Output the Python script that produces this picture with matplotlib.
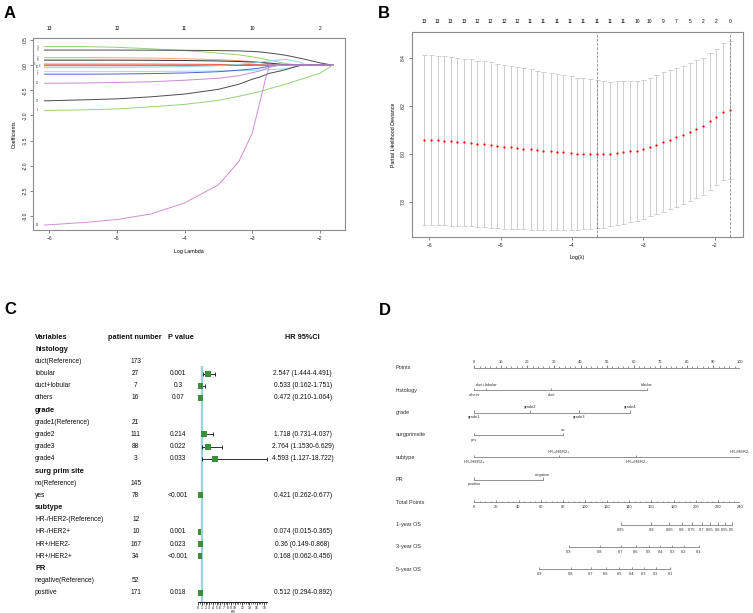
import numpy as np
import matplotlib
matplotlib.use("Agg")
import matplotlib.pyplot as plt
from matplotlib.transforms import blended_transform_factory

plt.rcParams['font.family'] = ['Liberation Sans', 'DejaVu Sans']

# ---------------- A: lasso coefficient paths ----------------
path_loglambda = [-6.07, -5.5, -5.0, -4.5, -4.0, -3.5, -3.2, -3.0, -2.9, -2.8,
                  -2.74, -2.6, -2.5, -2.3, -2.2, -2.0, -1.81]
coef_paths = [
    [0.37, 0.37, 0.355, 0.325, 0.29, 0.24, 0.205, 0.165, 0.14, 0.115, 0.10, 0.06, 0.03, 0, 0, 0, 0],
    [0.30, 0.30, 0.30, 0.298, 0.295, 0.29, 0.283, 0.272, 0.265, 0.25, 0.24, 0.215, 0.195, 0.14, 0.11, 0.045, 0],
    [0.15, 0.15, 0.147, 0.14, 0.128, 0.11, 0.09, 0.07, 0.058, 0.035, 0.02, 0, 0, 0, 0, 0, 0],
    [0.10, 0.10, 0.10, 0.097, 0.092, 0.083, 0.073, 0.062, 0.055, 0.045, 0.04, 0.022, 0.01, 0, 0, 0, 0],
    [0.02, 0.02, 0.02, 0.02, 0.018, 0.015, 0.012, 0.01, 0.008, 0.005, 0.003, 0, 0, 0, 0, 0, 0],
    [-0.01, -0.01, -0.01, -0.01, -0.01, -0.008, -0.006, -0.005, -0.004, -0.002, 0, 0, 0, 0, 0, 0, 0],
    [-0.045, -0.045, -0.043, -0.038, -0.028, -0.01, 0.015, 0.04, 0.055, 0.075, 0.085, 0.105, 0.112, 0.06, 0, 0, 0],
    [-0.13, -0.13, -0.128, -0.125, -0.12, -0.115, -0.11, -0.105, -0.10, -0.095, -0.09, -0.08, -0.07, -0.005, 0, 0, 0],
    [-0.18, -0.18, -0.176, -0.168, -0.155, -0.13, -0.10, -0.075, -0.06, -0.035, -0.02, 0, 0, 0, 0, 0, 0],
    [-0.36, -0.355, -0.345, -0.33, -0.30, -0.26, -0.21, -0.15, -0.12, -0.07, -0.04, 0, 0, 0, 0, 0, 0],
    [-0.71, -0.69, -0.67, -0.63, -0.575, -0.48, -0.38, -0.28, -0.24, -0.19, -0.16, -0.12, -0.085, -0.01, 0, 0, 0],
    [-0.90, -0.89, -0.87, -0.83, -0.78, -0.70, -0.62, -0.56, -0.53, -0.49, -0.465, -0.415, -0.375, -0.29, -0.245, -0.16, 0],
    [-3.18, -3.13, -3.07, -2.96, -2.74, -2.38, -1.92, -1.35, -0.80, -0.25, 0, 0, 0, 0, 0, 0, 0],
]
path_colors = ['#8fd474', '#4d4d4d', '#f3a27c', '#2f2f2f', '#e8553a', '#5d7ad8', '#8ad8e6',
               '#9fd8ea', '#4f63c8', '#c98ad6', '#4d4d4d', '#93d474', '#d58cd9']
path_ids = ['4', '9', '3', '8', '5', '6', '10', '7', '2', '11', '12', '1', '13']
df_ticks = [-6, -5, -4, -3, -2]
df_labels = ['13', '12', '11', '10', '2']

# ---------------- B: cross-validation ----------------
cv_loglambda = [-6.07, -5.98, -5.88, -5.79, -5.70, -5.61, -5.51, -5.42, -5.33, -5.23,
                -5.14, -5.05, -4.95, -4.86, -4.77, -4.68, -4.58, -4.49, -4.40, -4.30,
                -4.21, -4.12, -4.02, -3.93, -3.84, -3.75, -3.65, -3.56, -3.47, -3.37,
                -3.28, -3.19, -3.09, -3.00, -2.91, -2.82, -2.72, -2.63, -2.54, -2.44,
                -2.35, -2.26, -2.16, -2.07, -1.98, -1.89, -1.79]
cv_mean = [8.058, 8.058, 8.057, 8.055, 8.052, 8.051, 8.048, 8.046, 8.041, 8.039,
           8.036, 8.033, 8.030, 8.028, 8.023, 8.021, 8.018, 8.015, 8.012, 8.010,
           8.007, 8.006, 8.004, 8.001, 8.000, 7.999, 7.998, 7.998, 7.999, 8.003,
           8.006, 8.010, 8.012, 8.018, 8.028, 8.037, 8.048, 8.058, 8.069, 8.079,
           8.090, 8.103, 8.114, 8.135, 8.154, 8.175, 8.182]
cv_se = [0.352, 0.352, 0.351, 0.351, 0.350, 0.349, 0.348, 0.347, 0.346, 0.345,
         0.344, 0.342, 0.341, 0.339, 0.337, 0.335, 0.333, 0.331, 0.329, 0.326,
         0.324, 0.321, 0.319, 0.316, 0.314, 0.311, 0.308, 0.305, 0.301, 0.299,
         0.296, 0.293, 0.291, 0.290, 0.288, 0.289, 0.290, 0.289, 0.288, 0.287,
         0.286, 0.286, 0.286, 0.285, 0.283, 0.284, 0.285]
cv_nzero = ['13', '13', '13', '13', '12', '12', '12', '12', '11', '11', '11', '11',
            '11', '11', '11', '11', '10', '10', '9', '7', '5', '2', '2', '0']
idx_min = 26

# ---------------- C: forest plot ----------------
var_names = ['histology', 'duct(Reference)', 'lobular', 'duct+lobular', 'others',
             'grade', 'grade1(Reference)', 'grade2', 'grade3', 'grade4',
             'surg prim site', 'no(Reference)', 'yes',
             'subtype', 'HR-/HER2-(Reference)', 'HR-/HER2+', 'HR+/HER2-', 'HR+/HER2+',
             'PR', 'negative(Reference)', 'positive']
group_names = ['histology', 'grade', 'surg prim site', 'subtype', 'PR']
patients = ['', '173', '27', '7', '16', '', '21', '111', '88', '3', '', '145', '78',
            '', '12', '10', '167', '34', '', '52', '171']
p_values = ['', '', '0.001', '0.3', '0.07', '', '', '0.214', '0.022', '0.033', '', '',
            '<0.001', '', '', '0.001', '0.023', '<0.001', '', '', '0.018']
hr = [np.nan, np.nan, 2.547, 0.533, 0.472, np.nan, np.nan, 1.718, 2.764, 4.593, np.nan,
      np.nan, 0.421, np.nan, np.nan, 0.074, 0.36, 0.168, np.nan, np.nan, 0.512]
hr_lo = [np.nan, np.nan, 1.444, 0.162, 0.210, np.nan, np.nan, 0.731, 1.153, 1.127, np.nan,
         np.nan, 0.262, np.nan, np.nan, 0.015, 0.149, 0.062, np.nan, np.nan, 0.294]
hr_hi = [np.nan, np.nan, 4.491, 1.751, 1.064, np.nan, np.nan, 4.037, 6.629, 18.722, np.nan,
         np.nan, 0.677, np.nan, np.nan, 0.365, 0.868, 0.456, np.nan, np.nan, 0.892]
hr_text = ['', '', '2.547 (1.444-4.491)', '0.533 (0.162-1.751)', '0.472 (0.210-1.064)', '', '',
           '1.718 (0.731-4.037)', '2.764 (1.1530-6.629)', '4.593 (1.127-18.722)', '', '',
           '0.421 (0.262-0.677)', '', '', '0.074 (0.015-0.365)', '0.36 (0.149-0.868)',
           '0.168 (0.062-0.456)', '', '', '0.512 (0.294-0.892)']
ref_hr = 1

# ---------------- D: nomogram ----------------
histology_levels = ['others', 'duct+lobular', 'duct', 'lobular']
histology_points = [0, 4.5, 29, 65]
grade_levels = ['grade1', 'grade2', 'grade3', 'grade4']
grade_points = [0, 21, 39.3, 58.6]
surg_levels = ['yes', 'no']
surg_points = [0, 33.3]
subtype_levels = ['HR-/HER2+', 'HR+/HER2+', 'HR+/HER2-', 'HR-/HER2-']
subtype_points = [0, 31.8, 60.9, 100]
pr_levels = ['positive', 'negative']
pr_points = [0, 25.7]
os1_labels = ['0.95', '0.9', '0.85', '0.8', '0.75', '0.7', '0.65', '0.6', '0.55', '0.5']
os1_total = [132.3, 159.9, 176.1, 187.6, 196.8, 205.4, 212.9, 220.1, 226.5, 232.5]
os3_labels = ['0.9', '0.8', '0.7', '0.6', '0.5', '0.4', '0.3', '0.2', '0.1']
os3_total = [85.3, 113.4, 132.5, 145.9, 157.4, 168.0, 178.7, 189.5, 202.8]
os5_labels = ['0.9', '0.8', '0.7', '0.6', '0.5', '0.4', '0.3', '0.2', '0.1']
os5_total = [58.7, 87.3, 105.4, 119.0, 131.0, 142.5, 153.0, 164.1, 177.0]
max_total = 240

W, H = 753, 613
fig = plt.figure(figsize=(W / 100, H / 100), dpi=100)


def px_axes(left, top, right, bottom):
    return fig.add_axes([left / W, 1 - bottom / H, (right - left) / W, (bottom - top) / H])


def r_style(ax):
    for sp in ax.spines.values():
        sp.set_color('#8c8c8c')
        sp.set_linewidth(0.8)
    ax.tick_params(direction='out', length=2.2, width=0.5, color='#555555',
                   labelsize=3.5, pad=2, labelcolor='#222222')
    ax.tick_params(axis='y', labelrotation=90)
    for lab in ax.get_yticklabels():
        lab.set_va('center')


# ---------- panel A ----------
axA = px_axes(33.3, 38.3, 345, 230)
label_dx = [0.1, 0.1, 0.1, 0.1, 0.14, 0.07, 0.1, 0.1, 0.1, 0.1, 0.1, 0.1, 0.1]
for coefs, col, pid, dx in zip(coef_paths, path_colors, path_ids, label_dx):
    axA.plot(path_loglambda, coefs, color=col, lw=0.7)
    axA.text(path_loglambda[0] - dx, coefs[0], pid, fontsize=2.0, ha='center', va='center',
             color='#444444')
axA.set_xlim(-6.236, -1.63)
axA.set_ylim(-3.278, 0.534)
axA.set_xticks([-6, -5, -4, -3, -2])
axA.set_yticks([0.5, 0.0, -0.5, -1.0, -1.5, -2.0, -2.5, -3.0])
axA.set_yticklabels(['0.5', '0.0', '-0.5', '-1.0', '-1.5', '-2.0', '-2.5', '-3.0'])
r_style(axA)
axA.set_xlabel('Log Lambda', fontsize=3.8, labelpad=6)
axA.set_ylabel('Coefficients', fontsize=3.8, labelpad=4)
axA_top = axA.twiny()
axA_top.set_xlim(axA.get_xlim())
axA_top.set_xticks(df_ticks)
axA_top.set_xticklabels(df_labels)
axA_top.tick_params(length=0, labelsize=3.5, pad=5)
for sp in axA_top.spines.values():
    sp.set_visible(False)

# ---------- panel B ----------
axB = px_axes(412, 32.3, 742.7, 237.3)
axB.errorbar(cv_loglambda, cv_mean, yerr=cv_se, fmt='none', ecolor='#cfcfcf',
             elinewidth=0.7, capsize=1.8, capthick=0.7)
axB.plot(cv_loglambda, cv_mean, 'o', color='#ff0000', ms=1.6, mew=0)
axB.axvline(cv_loglambda[idx_min], color='#777777', lw=0.5, ls=(0, (4, 2)))
axB.axvline(cv_loglambda[-1], color='#777777', lw=0.5, ls=(0, (4, 2)))
axB.set_xlim(-6.24, -1.61)
axB.set_ylim(7.653, 8.505)
axB.set_xticks([-6, -5, -4, -3, -2])
axB.set_yticks([7.8, 8.0, 8.2, 8.4])
axB.set_yticklabels(['7.8', '8.0', '8.2', '8.4'])
r_style(axB)
axB.set_xlabel('Log(\u03bb)', fontsize=3.8, labelpad=5)
axB.set_ylabel('Partial Likelihood Deviance', fontsize=3.8, labelpad=4)
axB_top = axB.twiny()
axB_top.set_xlim(axB.get_xlim())
axB_top.set_xticks(cv_loglambda[::2])
axB_top.set_xticklabels(cv_nzero)
axB_top.tick_params(length=0, labelsize=3.5, pad=6)
for sp in axB_top.spines.values():
    sp.set_visible(False)

# ---------- panel C ----------
hr_scale_px = 3.66
c_left = 198.2
axC = px_axes(c_left, 300, c_left + 18.8 * hr_scale_px, 601.7)
row_top = (300 - 349.3) / 12.17
row_bot = (601.7 - 349.3) / 12.17
axC.set_xlim(0, 18.8)
axC.set_ylim(row_bot, row_top)
rows = np.arange(len(var_names))
hr_a = np.array(hr)
lo_a = np.array(hr_lo)
hi_a = np.array(hr_hi)
ok = ~np.isnan(hr_a)
axC.plot([ref_hr, ref_hr], [1.37, row_bot], color='#9dd3dc', lw=1.7, zorder=0,
         solid_capstyle='butt')
axC.errorbar(hr_a[ok], rows[ok], xerr=[hr_a[ok] - lo_a[ok], hi_a[ok] - hr_a[ok]],
             fmt='none', ecolor='#111111', elinewidth=0.6, capsize=1.1, capthick=0.6, zorder=2)
axC.plot(hr_a[ok], rows[ok], 's', color='#3b8e3b', ms=3.8, mew=0, zorder=3)
for sp in ['top', 'right', 'left']:
    axC.spines[sp].set_visible(False)
axC.spines['bottom'].set_linewidth(0.6)
axC.set_yticks([])
maj = list(range(0, 11)) + [12, 14, 16, 18]
axC.set_xticks(maj)
axC.set_xticklabels([str(v) for v in maj])
axC.set_xticks(np.arange(0, 18.6, 0.5), minor=True)
axC.tick_params(axis='x', which='major', length=2, width=0.5, labelsize=2.3, pad=0.8)
axC.tick_params(axis='x', which='minor', length=1.2, width=0.4)
axC.set_xlabel('HR', fontsize=2.3, labelpad=0.5)

tC = blended_transform_factory(fig.transFigure, axC.transData)
hdr_kw = dict(transform=tC, fontsize=5.3, fontweight='bold', va='center', color='#111111')
axC.text(35 / W, -1, 'Variables', ha='left', **hdr_kw)
axC.text(135 / W, -1, 'patient number', ha='center', **hdr_kw)
axC.text(181 / W, -1, 'P value', ha='center', **hdr_kw)
axC.text(302.5 / W, -1, 'HR 95%CI', ha='center', **hdr_kw)
txt_kw = dict(transform=tC, fontsize=4.8, va='center', color='#111111')
for i, name in enumerate(var_names):
    if name in group_names:
        axC.text(35 / W, i, name, ha='left', transform=tC, fontsize=5.3,
                 fontweight='bold', va='center', color='#111111')
    else:
        axC.text(35 / W, i, name, ha='left', **txt_kw)
    axC.text(135.7 / W, i, patients[i], ha='center', **txt_kw)
    axC.text(178.3 / W, i, p_values[i], ha='center', **txt_kw)
    axC.text(302.7 / W, i, hr_text[i], ha='center', **txt_kw)

# ---------- panel D ----------
axD = px_axes(474.3, 340, 740, 590)
row_gap = 22.4
axD.set_xlim(0, 100)
axD.set_ylim((590 - 367.7) / row_gap, (340 - 367.7) / row_gap)
axD.axis('off')
line_kw = dict(color='#808080', lw=0.6)
lab_kw = dict(fontsize=2.9, color='#333333', ha='center')
tD = blended_transform_factory(fig.transFigure, axD.transData)
row_names = ['Points', 'histology', 'grade', 'surgprimsite', 'subtype', 'PR',
             'Total Points', '1-year OS', '3-year OS', '5-year OS']
for r, name in enumerate(row_names):
    axD.text(396 / W, r, name, transform=tD, fontsize=4.0, color='#333333',
             ha='left', va='center')

# Points scale
axD.plot([0, 100], [0, 0], **line_kw)
axD.vlines(np.arange(0, 101, 10), 0, -0.13, **line_kw)
axD.vlines(np.arange(0, 101, 2), 0, -0.065, **line_kw)
for v in range(0, 101, 10):
    axD.text(v, -0.18, str(v), va='bottom', **lab_kw)

# categorical predictors
for r, (levels, pts) in enumerate([(histology_levels, histology_points),
                                   (grade_levels, grade_points),
                                   (surg_levels, surg_points),
                                   (subtype_levels, subtype_points),
                                   (pr_levels, pr_points)], start=1):
    axD.plot([min(pts), max(pts)], [r, r], **line_kw)
    axD.vlines(pts, r, r - 0.1, **line_kw)
    for j, (lev, p) in enumerate(zip(levels, pts)):
        if j % 2 == 0:
            axD.text(p, r + 0.12, lev, va='top', **lab_kw)
        else:
            axD.text(p, r - 0.14, lev, va='bottom', **lab_kw)

# Total points
to_pts = 100 / max_total
axD.plot([0, 100], [6, 6], **line_kw)
axD.vlines(np.arange(0, max_total + 1, 20) * to_pts, 6, 6 - 0.1, **line_kw)
axD.vlines(np.arange(0, max_total + 1, 5) * to_pts, 6, 6 - 0.06, **line_kw)
for v in range(0, max_total + 1, 20):
    axD.text(v * to_pts, 6 + 0.14, str(v), va='top', **lab_kw)

# survival scales
for r, (labels, totals) in enumerate([(os1_labels, os1_total),
                                      (os3_labels, os3_total),
                                      (os5_labels, os5_total)], start=7):
    xs = np.array(totals) * to_pts
    axD.plot([xs.min(), xs.max()], [r, r], **line_kw)
    axD.vlines(xs, r, r - 0.1, **line_kw)
    for lab, x in zip(labels, xs):
        axD.text(x, r + 0.14, lab, va='top', **lab_kw)

# panel letters
for letter, x, y in [('A', 4, 18), ('B', 378, 18), ('C', 4, 314), ('D', 379, 315)]:
    fig.text(x / W, 1 - y / H, letter, fontsize=12, fontweight='bold', ha='left',
             va='baseline')

fig.savefig('out.png', dpi=100)
